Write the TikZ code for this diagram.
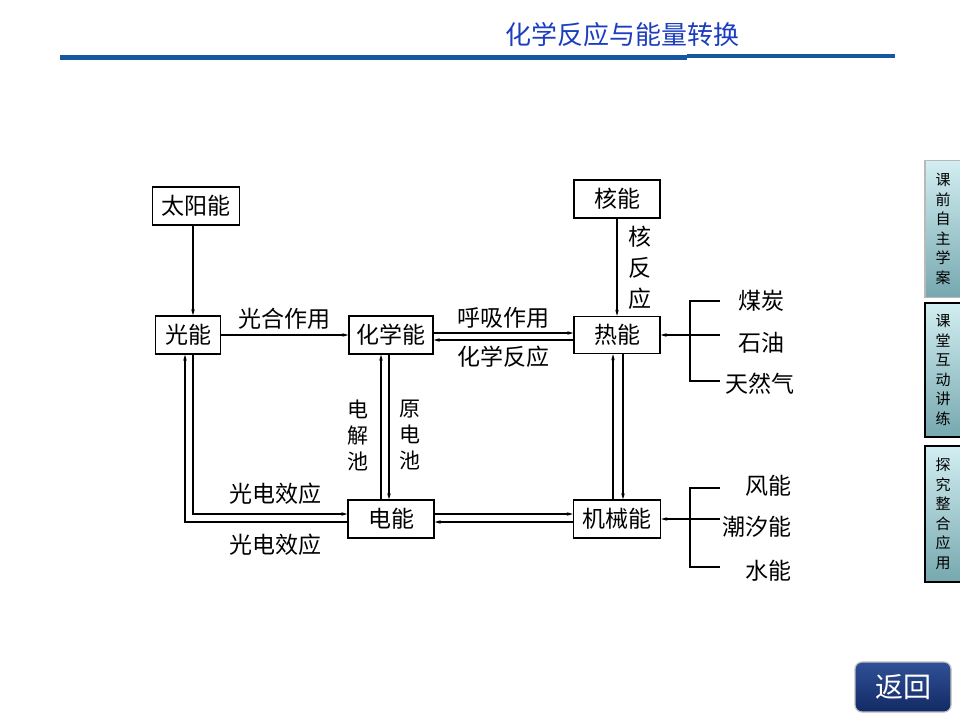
\documentclass[tikz,border=0pt]{standalone}
\usepackage{fontspec}
\setmainfont{Noto Sans CJK SC}
\usepackage{tikz}
\usetikzlibrary{arrows.meta}
\definecolor{titleblue}{RGB}{28,62,190}
\definecolor{ruleblue}{RGB}{22,88,160}
\definecolor{tabtop}{RGB}{210,238,242}
\definecolor{tabbot}{RGB}{118,168,175}
\definecolor{navytop}{RGB}{48,80,150}
\definecolor{navybot}{RGB}{18,42,100}

\begin{document}
\begin{tikzpicture}[x=1pt, y=-1pt, line width=1.1pt,
  box/.style={draw, line width=1.4pt, inner sep=0pt, minimum height=38pt,
              minimum width=#1, font=\fontsize{23}{27}\selectfont},
  box/.default=86pt,
  lbl/.style={font=\fontsize{23}{27}\selectfont, inner sep=0pt},
  vlbl/.style={font=\fontsize{21}{26}\selectfont, align=center, inner sep=0pt},
  tab/.style={top color=tabtop, bottom color=tabbot, minimum width=36pt,
              minimum height=#1, align=center, inner sep=0pt,
              font=\fontsize{15}{19.5}\selectfont},
  >={Stealth[length=6pt, width=3.5pt]}]
  \useasboundingbox (0,0) rectangle (960,720);
  % page header
  \node[text=titleblue, font=\fontsize{26}{29}\selectfont] (title) at (622,35) {化学反应与能量转换};
  \draw[ruleblue, line width=5pt] (60,57) -- (687,57);
  \draw[ruleblue, line width=4pt] (687,56) -- (895,56);
  % side tabs and return button
  \node[tab=137pt, draw=gray!55, line width=1.5pt] (tabpre)  at (943,229) {课\\前\\自\\主\\学\\案};
  \node[tab=134pt, draw=black, line width=2.5pt]   (tabin)   at (943,370) {课\\堂\\互\\动\\讲\\练};
  \node[tab=136pt, draw=black, line width=2.5pt]   (tabpost) at (943,514) {探\\究\\整\\合\\应\\用};
  \node[draw=gray!50, line width=1.2pt, rounded corners=7pt, top color=navytop, bottom color=navybot,
        minimum width=96pt, minimum height=50pt, text=white,
        font=\fontsize{28}{30}\selectfont] (back) at (903,687) {返回};
  % row 1
  \node[box=87pt]  (sun)     at (196,206) {太阳能};
  \node[box=86pt]  (nuclear) at (617,199) {核能};
  % row 2
  \node[box=65pt]  (light)   at (188,335) {光能};
  \node[box=84pt]  (chem)    at (391,335) {化学能};
  \node[box=86pt, minimum height=37pt] (heat) at (617,335) {热能};
  % row 3
  \node[box=86pt]  (elec)    at (391,519) {电能};
  \node[box=87pt]  (mech)    at (617,519) {机械能};
  % sources on the right
  \node[lbl] (coal)  at (761,301) {煤炭};
  \node[lbl] (oil)   at (761,343) {石油};
  \node[lbl] (gas)   at (760,384) {天然气};
  \node[lbl] (wind)  at (768,486) {风能};
  \node[lbl] (tide)  at (757,527) {潮汐能};
  \node[lbl] (water) at (768,571) {水能};
  \coordinate (fuel) at (720,335);
  \coordinate (flow) at (720,519);
  \draw (720,301) -- (690,301) -- (690,381) -- (720,381);
  \draw (720,488) -- (690,488) -- (690,567) -- (720,567);
  \draw[->] (fuel) -- (heat.east);
  \draw[->] (flow) -- (mech.east);
  % conversions
  \draw[->] ([xshift=-3pt]sun.south) -- ([xshift=5pt]light.north);
  \draw[->] (nuclear) -- (heat);
  \node[lbl, align=center, font=\fontsize{23}{31}\selectfont] (nucrx) at (640,268) {核\\反\\应};
  \draw[->] (light.east) -- node[lbl, above=5pt] {光合作用} (chem.west);
  \draw[->] ([yshift=2pt]chem.east) -- node[lbl, above=4pt] {呼吸作用} ([yshift=2pt]heat.west);
  \draw[->] ([yshift=-5pt]heat.west) -- node[lbl, below=5pt] {化学反应} ([yshift=-5pt]chem.east);
  \draw[->] ([xshift=-10pt]elec.north) -- ([xshift=-10pt]chem.south);
  \draw[->] ([xshift=-2pt]chem.south) -- ([xshift=-2pt]elec.north);
  \node[vlbl] (cellin)  at (358,435) {电\\解\\池};
  \node[vlbl] (cellout) at (410,435) {原\\电\\池};
  \draw[->] ([xshift=-4pt]mech.north) -- ([xshift=-4pt]heat.south);
  \draw[->] ([xshift=6pt]heat.south) -- ([xshift=6pt]mech.north);
  \draw[->] ([yshift=5pt]elec.east) -- ([yshift=5pt]mech.west);
  \draw[->] ([yshift=-3pt]mech.west) -- ([yshift=-3pt]elec.east);
  \draw[->] ([yshift=-3pt]elec.west) -| ([xshift=-3pt]light.south);
  \draw[->] ([xshift=5pt]light.south) |- ([yshift=5pt]elec.west);
  \node[lbl] (pvup)   at (275,494) {光电效应};
  \node[lbl] (pvdown) at (275,545) {光电效应};
\end{tikzpicture}
\end{document}
